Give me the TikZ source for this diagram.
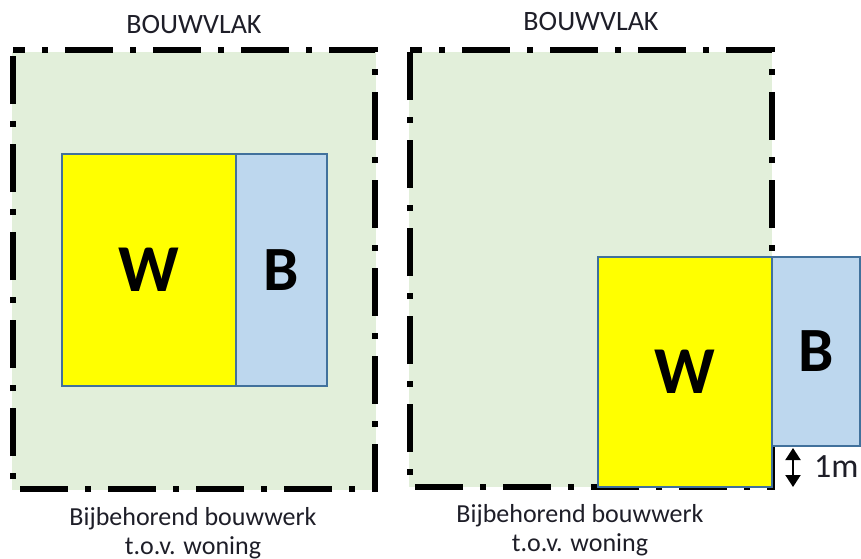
\documentclass[tikz,border=0pt]{standalone}
\usepackage{fontspec}
\setmainfont{Carlito}
\usetikzlibrary{arrows.meta}
\definecolor{plotgreen}{HTML}{E2EFDA}
\definecolor{wyellow}{HTML}{FFFF00}
\definecolor{bblue}{HTML}{BDD7EE}
\definecolor{edgeblue}{HTML}{41719C}
\definecolor{txt}{HTML}{1E1E28}
\tikzset{
  vlak/.style={draw=black, line width=6pt, line cap=butt, line join=miter,
    dash pattern=on 48pt off 17pt on 6pt off 17pt, dash phase=36pt},
  wbox/.style={draw=edgeblue, line width=2pt, fill=wyellow, inner sep=0pt, font=\bfseries\fontsize{67}{67}\selectfont},
  bbox/.style={draw=edgeblue, line width=2pt, fill=bblue, inner sep=0pt, font=\bfseries\fontsize{63}{63}\selectfont},
  ttl/.style={font=\fontsize{28}{28}\selectfont, text=txt, inner sep=0pt},
  lbl/.style={font=\fontsize{26}{29}\selectfont, align=center, text=txt, inner sep=0pt},
}
\begin{document}
\begin{tikzpicture}[x=1pt,y=-1pt]
\useasboundingbox (0,0) rectangle (861,558);
% left panel
\fill[plotgreen] (12,52) rectangle (376,490);
\draw[vlak] (13,50) -- (375,50) -- (375,489) -- (13,489) -- cycle;
\node[wbox, minimum width=174pt, minimum height=232pt] (w1) at (149,270) {W};
\node[bbox, minimum width=91pt, minimum height=232pt] (b1) at (281.5,270) {B};
\node[ttl] (t1) at (194,25) {BOUWVLAK};
\node[lbl] (c1) at (193,533) {Bijbehorend bouwwerk\\t.o.v. woning};
% right panel
\fill[plotgreen] (409,52) rectangle (772,487);
\draw[vlak] (410,50) -- (772,50) -- (772,487) -- (410,487) -- cycle;
\node[wbox, minimum width=174pt, minimum height=230pt] (w2) at (685,372) {W};
\node[bbox, minimum width=88pt, minimum height=189pt] (b2) at (816,351.5) {B};
\node[ttl] (t2) at (591,22) {BOUWVLAK};
\node[lbl] (c2) at (580,530) {Bijbehorend bouwwerk\\t.o.v. woning};
\coordinate (a1) at (793,448);
\coordinate (a2) at (793,487);
\draw[line width=2pt, {Triangle[width=15pt,length=12pt]}-{Triangle[width=15pt,length=12pt]}] (a1) -- (a2);
\node[font=\fontsize{34}{34}\selectfont, text=txt, anchor=west, inner sep=0pt] (m) at (814,467) {1m};
\end{tikzpicture}
\end{document}
